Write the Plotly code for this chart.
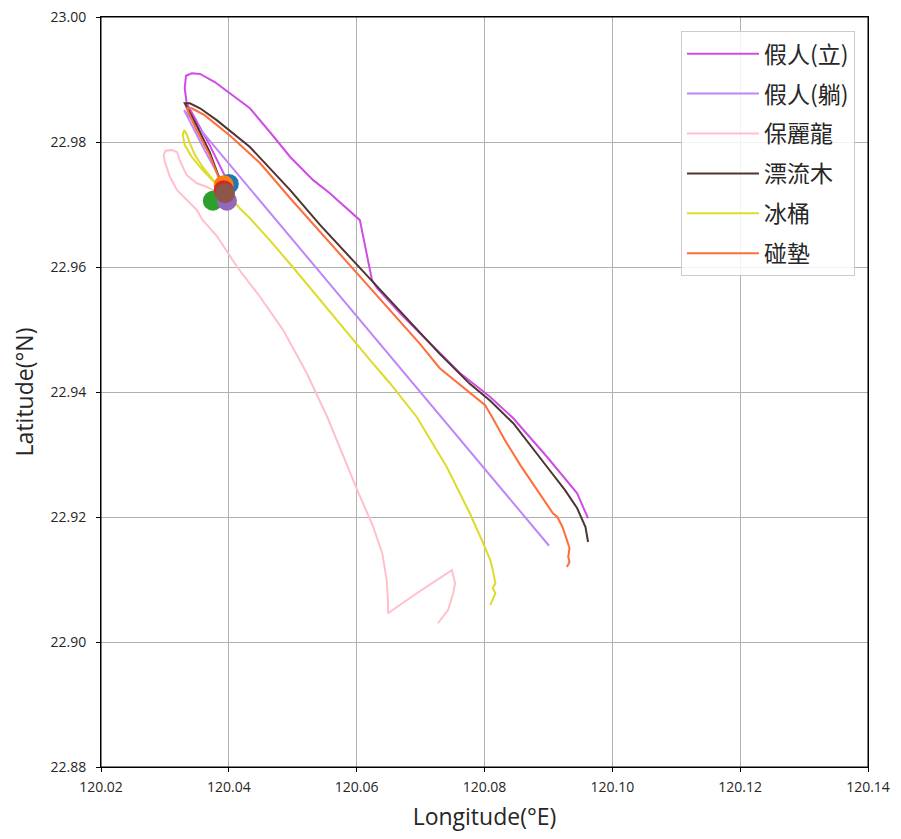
import plotly.graph_objects as go

names = ["假人(立)", "假人(躺)", "保麗龍", "漂流木", "冰桶", "碰墊"]
line_colors = ["#D04CE6", "#BF86FA", "#FFC0CB", "#4E3530", "#DCDC2A", "#FF6D3A"]
start_colors = ["#1f77b4", "#ff7f0e", "#2ca02c", "#d62728", "#9467bd", "#8c564b"]

lon_standing = [120.0400, 120.0370, 120.0347, 120.0334, 120.0331, 120.0333, 120.0342, 120.0355, 120.0378,
                120.0402, 120.0433, 120.0469, 120.0496, 120.0532, 120.0558, 120.0605, 120.0615, 120.0624,
                120.0632, 120.0668, 120.0699, 120.0730, 120.0762, 120.0809, 120.0845, 120.0898, 120.0945,
                120.0953, 120.0962]
lat_standing = [22.9733, 22.9795, 22.9838, 22.9862, 22.9886, 22.9906, 22.9910, 22.9909, 22.9896,
                22.9878, 22.9854, 22.9810, 22.9776, 22.9739, 22.9718, 22.9675, 22.9627, 22.9579,
                22.9566, 22.9526, 22.9494, 22.9462, 22.9430, 22.9392, 22.9358, 22.9296, 22.9238,
                22.9219, 22.9198]

lon_lying = [120.0392, 120.0362, 120.0342, 120.0330, 120.0901]
lat_lying = [22.9731, 22.9787, 22.9827, 22.9851, 22.9154]

lon_foam = [120.0375, 120.0375, 120.0366, 120.0350, 120.0334, 120.0323, 120.0319, 120.0311, 120.0301,
            120.0298, 120.0300, 120.0308, 120.0319, 120.0334, 120.0350, 120.0359, 120.0381, 120.0413,
            120.0449, 120.0485, 120.0522, 120.0554, 120.0590, 120.0601, 120.0626, 120.0640, 120.0647,
            120.0649, 120.0649, 120.0694, 120.0749, 120.0754, 120.0751, 120.0743, 120.0727]
lat_foam = [22.9706, 22.9723, 22.9728, 22.9734, 22.9747, 22.9771, 22.9784, 22.9787, 22.9786,
            22.9779, 22.9768, 22.9744, 22.9723, 22.9707, 22.9691, 22.9675, 22.9650, 22.9600,
            22.9552, 22.9499, 22.9430, 22.9360, 22.9270, 22.9243, 22.9184, 22.9142, 22.9099,
            22.9067, 22.9046, 22.9078, 22.9115, 22.9094, 22.9078, 22.9051, 22.9030]

lon_wood = [120.0392, 120.0370, 120.0347, 120.0334, 120.0331, 120.0339, 120.0355, 120.0381, 120.0433,
            120.0496, 120.0543, 120.0601, 120.0668, 120.0730, 120.0777, 120.0809, 120.0845, 120.0871,
            120.0898, 120.0926, 120.0945, 120.0958, 120.0962]
lat_wood = [22.9723, 22.9784, 22.9832, 22.9858, 22.9862, 22.9862, 22.9854, 22.9835, 22.9792,
            22.9723, 22.9667, 22.9603, 22.9530, 22.9461, 22.9413, 22.9386, 22.9350, 22.9315,
            22.9280, 22.9243, 22.9214, 22.9184, 22.9160]

lon_bucket = [120.0397, 120.0378, 120.0359, 120.0347, 120.0339, 120.0334, 120.0330, 120.0328, 120.0331,
              120.0342, 120.0359, 120.0378, 120.0394, 120.0406, 120.0417, 120.0433, 120.0464, 120.0500,
              120.0543, 120.0590, 120.0621, 120.0652, 120.0694, 120.0741, 120.0777, 120.0798, 120.0809,
              120.0813, 120.0817, 120.0813, 120.0817, 120.0809]
lat_bucket = [22.9706, 22.9736, 22.9760, 22.9779, 22.9798, 22.9813, 22.9819, 22.9811, 22.9795,
              22.9776, 22.9755, 22.9734, 22.9718, 22.9707, 22.9694, 22.9678, 22.9643, 22.9600,
              22.9547, 22.9488, 22.9451, 22.9414, 22.9360, 22.9280, 22.9206, 22.9158, 22.9131,
              22.9115, 22.9094, 22.9086, 22.9078, 22.9059]

lon_fender = [120.0394, 120.0370, 120.0348, 120.0337, 120.0334, 120.0342, 120.0362, 120.0402, 120.0449,
              120.0496, 120.0543, 120.0601, 120.0636, 120.0668, 120.0699, 120.0730, 120.0754, 120.0777,
              120.0801, 120.0813, 120.0832, 120.0856, 120.0882, 120.0907, 120.0914, 120.0922, 120.0929,
              120.0933, 120.0931, 120.0933, 120.0929]
lat_fender = [22.9718, 22.9779, 22.9822, 22.9848, 22.9854, 22.9854, 22.9843, 22.9810, 22.9766,
              22.9710, 22.9656, 22.9590, 22.9549, 22.9514, 22.9477, 22.9438, 22.9418, 22.9398,
              22.9379, 22.9358, 22.9323, 22.9283, 22.9243, 22.9206, 22.9200, 22.9184, 22.9163,
              22.9150, 22.9136, 22.9128, 22.9120]

x_ticks = [120.02, 120.04, 120.06, 120.08, 120.10, 120.12, 120.14]
y_ticks = [22.88, 22.90, 22.92, 22.94, 22.96, 22.98, 23.00]

series = [(lon_standing, lat_standing), (lon_lying, lat_lying), (lon_foam, lat_foam),
          (lon_wood, lat_wood), (lon_bucket, lat_bucket), (lon_fender, lat_fender)]

font_family = "Open Sans, Noto Sans CJK TC, sans-serif"
text_color = "#262626"
fig = go.Figure()
for i, (lo, la) in enumerate(series):
    fig.add_trace(go.Scatter(x=lo, y=la, mode="lines", name=names[i],
                             line=dict(color=line_colors[i], width=2),
                             legendgroup=f"g{i}"))
for i, (lo, la) in enumerate(series):
    fig.add_trace(go.Scatter(x=[lo[0]], y=[la[0]], mode="markers", showlegend=False,
                             marker=dict(color=start_colors[i], size=20, line=dict(width=0))))

axis_common = dict(showline=True, linecolor="black", linewidth=1, mirror=True,
                   ticks="outside", ticklen=4, tickcolor="black", automargin=False,
                   ticklabeloverflow="allow",
                   showgrid=True, gridcolor="#b0b0b0", gridwidth=1, zeroline=False,
                   tickfont=dict(size=14, color=text_color, family=font_family))
fig.update_xaxes(range=[120.02, 120.14], tickvals=x_ticks, ticktext=[f"{v:.2f}" for v in x_ticks],
                 ticklabelstandoff=3,
                 title=dict(text="Longitude(°E)", font=dict(size=23, color=text_color, family=font_family), standoff=14),
                 **axis_common)
fig.update_yaxes(range=[22.88, 23.00], tickvals=y_ticks, ticktext=[f"{v:.2f}" for v in y_ticks],
                 ticklabelstandoff=7,
                 title=dict(text="Latitude(°N)", font=dict(size=23, color=text_color, family=font_family), standoff=10),
                 **axis_common)
fig.add_shape(type="rect", xref="paper", yref="paper", x0=0, y0=0, x1=1, y1=1,
              line=dict(color="black", width=1), fillcolor="rgba(0,0,0,0)", layer="above")
fig.update_layout(
    width=893, height=831,
    margin=dict(l=93, r=33, t=9, b=72, autoexpand=False),
    plot_bgcolor="white", paper_bgcolor="white",
    font=dict(family=font_family),
    legend=dict(x=0.983, y=0.981, xanchor="right", yanchor="top",
                bgcolor="rgba(255,255,255,0.85)", bordercolor="#cccccc", borderwidth=1,
                font=dict(size=23, color=text_color, family="Noto Sans CJK TC, Open Sans"),
                traceorder="grouped", tracegroupgap=7, itemwidth=72),
    showlegend=True,
)
fig.write_html("out.html")
